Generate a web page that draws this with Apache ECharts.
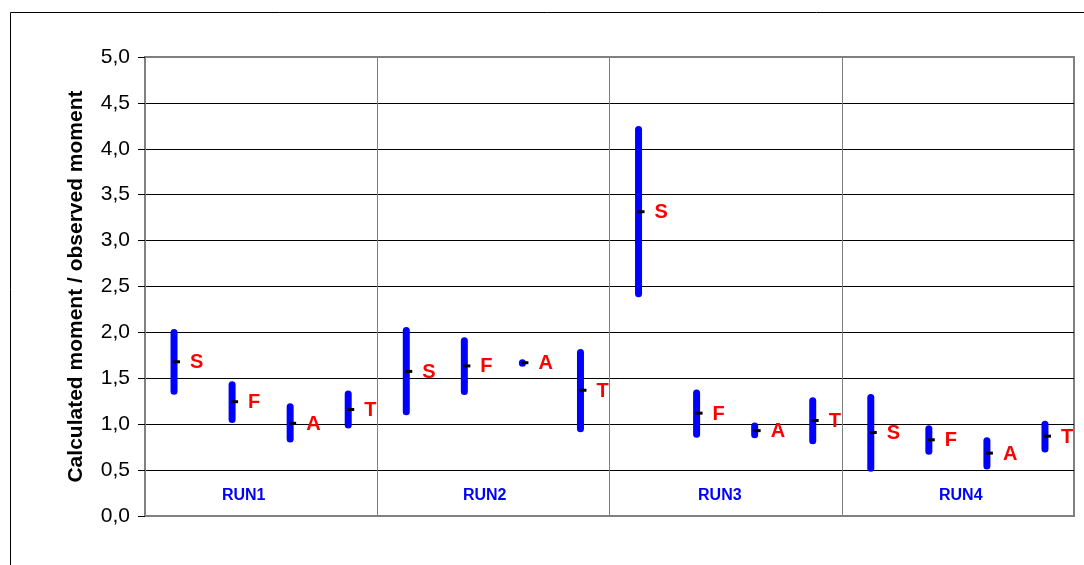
<!DOCTYPE html>
<html>
<head>
<meta charset="utf-8">
<title>Calculated / observed moment</title>
<script src="https://cdn.jsdelivr.net/npm/echarts@6/dist/echarts.min.js"></script>
<style>
  html, body { margin: 0; padding: 0; background: #fff; }
  #chart { width: 1084px; height: 565px; }
</style>
</head>
<body>
<div id="chart"></div>
<script>
// Run groups and the four calculation methods within each run
const runs = ['RUN1', 'RUN2', 'RUN3', 'RUN4'];
const methods = ['S', 'F', 'A', 'T'];

// Ratio ranges per run (order S, F, A, T): lowest, highest, mean
const lowVals  = [1.36, 1.05, 0.84, 0.99,   1.135, 1.355, 1.665, 0.95,   2.42, 0.89, 0.885, 0.82,   0.52, 0.705, 0.545, 0.73];
const highVals = [2.00, 1.43, 1.19, 1.33,   2.02,  1.91,  1.67,  1.78,   4.21, 1.34, 0.98,  1.255,  1.29, 0.95,  0.82,  1.00];
const meanVals = [1.68, 1.245, 1.01, 1.16,  1.575, 1.635, 1.67,  1.37,   3.315, 1.12, 0.93, 1.04,   0.91, 0.83,  0.685, 0.87];

// Y axis ticks
const yTicks = [0, 0.5, 1, 1.5, 2, 2.5, 3, 3.5, 4, 4.5, 5];

// Where the run captions sit along the x scale (one slot per method, 16 slots)
const runLabelX = [1.7, 5.85, 9.9, 14.05];
const runLabelY = 0.22;

const FONT = "'Liberation Sans', Arial, sans-serif";

const rangeData = lowVals.map((lo, i) => [i + 0.5, lo, highVals[i], meanVals[i]]);
const runLabelData = runs.map((r, i) => [runLabelX[i], runLabelY]);

function renderRange(params, api) {
  const x = api.value(0);
  const top = api.coord([x, api.value(2)]);
  const bot = api.coord([x, api.value(1)]);
  const mid = api.coord([x, api.value(3)]);
  return {
    type: 'group',
    children: [
      {
        type: 'line',
        shape: { x1: top[0], y1: top[1], x2: bot[0], y2: bot[1] },
        style: { stroke: '#0000FF', lineWidth: 7, lineCap: 'round' }
      },
      {
        type: 'rect',
        shape: { x: mid[0] - 1, y: mid[1] - 1.5, width: 7, height: 3 },
        style: { fill: '#000000' }
      },
      {
        type: 'text',
        x: mid[0] + 16,
        y: mid[1] + 1,
        style: {
          text: methods[params.dataIndex % methods.length],
          fill: '#FF0000',
          font: 'bold 20px ' + FONT,
          textAlign: 'left',
          textVerticalAlign: 'middle'
        }
      }
    ]
  };
}

function renderRunLabel(params, api) {
  const p = api.coord([api.value(0), api.value(1)]);
  return {
    type: 'text',
    x: p[0],
    y: p[1],
    style: {
      text: runs[params.dataIndex],
      fill: '#0000FF',
      font: 'bold 16px ' + FONT,
      textAlign: 'center',
      textVerticalAlign: 'middle'
    }
  };
}

const chart = echarts.init(document.getElementById('chart'), null, { renderer: 'canvas' });

chart.setOption({
  animation: false,
  backgroundColor: '#ffffff',
  graphic: [
    {
      type: 'rect',
      z: -10,
      shape: { x: 10.5, y: 12.5, width: 1200, height: 700 },
      style: { fill: 'none', stroke: '#000000', lineWidth: 1 }
    }
  ],
  grid: {
    left: 145,
    right: 10,
    top: 57,
    bottom: 49,
    show: true,
    borderColor: '#808080',
    borderWidth: 2,
    backgroundColor: 'transparent'
  },
  xAxis: {
    type: 'value',
    min: 0,
    max: 16,
    interval: 4,
    axisLine: { show: false },
    axisTick: { show: false },
    axisLabel: { show: false },
    splitLine: { show: true, lineStyle: { color: '#808080', width: 1 } }
  },
  yAxis: {
    type: 'value',
    min: yTicks[0],
    max: yTicks[yTicks.length - 1],
    interval: 0.5,
    name: 'Calculated moment / observed moment',
    nameLocation: 'middle',
    nameRotate: 90,
    nameGap: 58,
    nameTextStyle: { fontFamily: FONT, fontWeight: 'bold', fontSize: 21, color: '#000' },
    axisLine: { show: true, lineStyle: { color: '#808080', width: 2 } },
    axisTick: { show: true, inside: false, length: 7, lineStyle: { color: '#000', width: 1 } },
    axisLabel: {
      margin: 15,
      fontFamily: FONT,
      fontSize: 21,
      color: '#000',
      formatter: v => v.toFixed(1).replace('.', ',')
    },
    splitLine: {
      show: true,
      lineStyle: {
        color: yTicks.map((t, i) => (i === 0 || i === yTicks.length - 1) ? '#808080' : '#000000'),
        width: 1
      }
    }
  },
  series: [
    {
      type: 'custom',
      renderItem: renderRange,
      encode: { x: 0, y: [1, 2, 3] },
      data: rangeData,
      z: 3
    },
    {
      type: 'custom',
      renderItem: renderRunLabel,
      encode: { x: 0, y: 1 },
      data: runLabelData,
      z: 3
    }
  ]
});
</script>
</body>
</html>
